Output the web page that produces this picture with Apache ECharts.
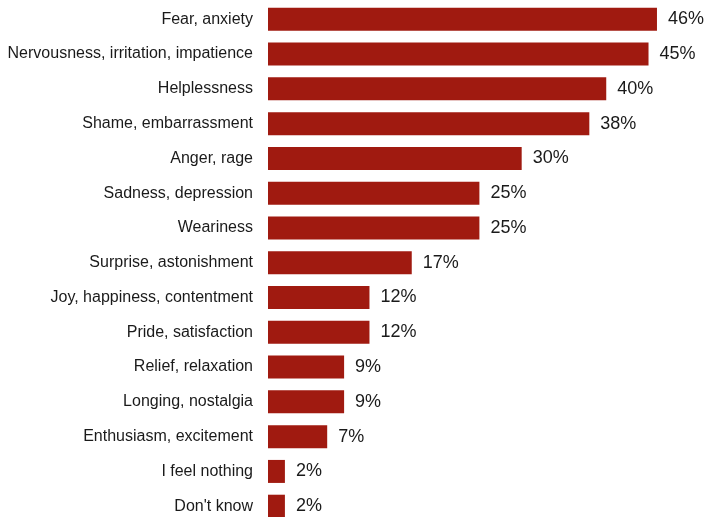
<!DOCTYPE html>
<html><head><meta charset="utf-8">
<script src="https://cdn.jsdelivr.net/npm/echarts@6/dist/echarts.min.js"></script>
<style>html,body{margin:0;padding:0;background:#fff}#c{width:708px;height:517px}</style>
</head><body><div id="c"></div>
<script>
const categories = ["Fear, anxiety","Nervousness, irritation, impatience","Helplessness","Shame, embarrassment","Anger, rage","Sadness, depression","Weariness","Surprise, astonishment","Joy, happiness, contentment","Pride, satisfaction","Relief, relaxation","Longing, nostalgia","Enthusiasm, excitement","I feel nothing","Don't know"];
const values = [46,45,40,38,30,25,25,17,12,12,9,9,7,2,2];
const chart = echarts.init(document.getElementById('c'), null, {renderer:'canvas'});
chart.setOption({
  animation:false,
  grid:{left:268, top:1.9, height:521.7, width:422.8, containLabel:false, outerBoundsMode:'none'},
  xAxis:{type:'value', min:0, max:50, show:false},
  yAxis:{type:'category', data:categories, inverse:true,
    axisLine:{show:false}, axisTick:{show:false},
    axisLabel:{color:'#1a1a1a', fontSize:16, fontFamily:'Liberation Sans, Arial, sans-serif', margin:15}},
  series:[{type:'bar', data:values, barWidth:23, itemStyle:{color:'#A01A10'},
    label:{show:true, position:'right', distance:11, formatter:'{c}%', color:'#1a1a1a', fontSize:18, fontFamily:'Liberation Sans, Arial, sans-serif'}}]
});
</script></body></html>
